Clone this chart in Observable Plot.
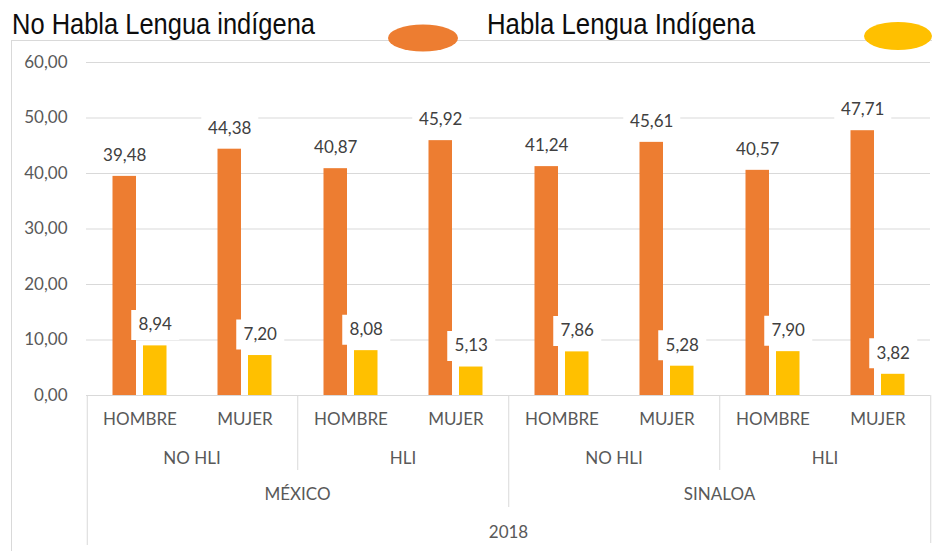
<!DOCTYPE html>
<html><head><meta charset="utf-8">
<script src="https://cdn.jsdelivr.net/npm/d3@7"></script>
<script src="https://cdn.jsdelivr.net/npm/@observablehq/plot@0.6"></script>
<style>
html,body{margin:0;padding:0;background:#fff;}
#wrap{position:relative;width:932px;height:551px;overflow:hidden;}
#chart,#legend{position:absolute;left:0;top:0;}
#frame{position:absolute;left:11px;top:40px;width:940px;height:530px;border:1px solid #d9d9d9;box-sizing:border-box;pointer-events:none;}
</style></head><body>
<div id="wrap"><div id="chart"></div><div id="frame"></div><svg id="legend" width="932" height="60"></svg></div>
<script>
// ---- data ----
const countries = ["MÉXICO", "SINALOA"];
const hliLevels = ["NO HLI", "HLI"];
const sexes = ["HOMBRE", "MUJER"];
const yearLabel = "2018";
const seriesNames = ["No Habla Lengua indígena", "Habla Lengua Indígena"];
const seriesColors = ["#ED7D31", "#FFC000"];
const noHablaValues = [39.48, 44.38, 40.87, 45.92, 41.24, 45.61, 40.57, 47.71];
const hablaValues = [8.94, 7.20, 8.08, 5.13, 7.86, 5.28, 7.90, 3.82];
const yTicks = [0, 10, 20, 30, 40, 50, 60];

// ---- build table ----
const rows = [];
const groupRows = [];
countries.forEach(c => hliLevels.forEach(h => {
  const group = c + "|" + h;
  groupRows.push({group, country: c, hli: h});
  sexes.forEach(s => {
    const i = rows.length;
    rows.push({group, country: c, hli: h, sex: s, noHabla: noHablaValues[i], habla: hablaValues[i]});
  });
}));
const groupKeys = groupRows.map(d => d.group);
const countryRows = countries.map(c => ({country: c, firstGroup: c + "|" + hliLevels[0]}));
const midGroup = countries[0] + "|" + hliLevels[hliLevels.length - 1];

const fmt = v => v.toFixed(2).replace(".", ",");
const box = (w, h) => ({draw(ctx) { ctx.rect(-w / 2, -h / 2, w, h); }});

const W = 932, H = 551;
const mL = 86, mR = 2;
const band = (W - mL - mR) / (groupKeys.length * sexes.length);
const half = band / 2;
const off = 15.25;
const labelFont = "Lato, 'Open Sans', sans-serif";
const axisColor = "#595959";

const lineColor = "#d9d9d9";
const sep = (data, x, dx, len) => Plot.ruleX(data, {fx: d => d, x: () => x, dx, y1: 0, y2: 0, insetBottom: -len, stroke: lineColor});
const catText = (data, opts) => Plot.text(data, {lineAnchor: "middle", fill: axisColor, fontSize: 17, ...opts});

const chart = Plot.plot({
  width: W, height: H,
  marginTop: 62, marginBottom: 156, marginLeft: mL, marginRight: mR,
  style: {fontFamily: labelFont, fontSize: "17px", color: axisColor, background: "transparent"},
  fx: {domain: groupKeys, padding: 0, axis: null},
  x: {domain: sexes, padding: 0, axis: null},
  y: {domain: [0, 60], ticks: yTicks, tickFormat: fmt, tickSize: 0, tickPadding: 19, label: null},
  marks: [
    Plot.ruleY(yTicks, {stroke: lineColor}),
    Plot.barY(rows, {fx: "group", x: "sex", y: "noHabla", fill: seriesColors[0], insetLeft: 25.5, insetRight: 56}),
    Plot.barY(rows, {fx: "group", x: "sex", y: "habla", fill: seriesColors[1], insetLeft: 56, insetRight: 25.5}),
    Plot.dot(rows, {fx: "group", x: "sex", y: "noHabla", dx: -off, dy: -21, symbol: box(57, 30), fill: "white"}),
    Plot.dot(rows, {fx: "group", x: "sex", y: "habla", dx: off, dy: -21, symbol: box(48, 30), fill: "white"}),
    Plot.text(rows, {fx: "group", x: "sex", y: "noHabla", text: d => fmt(d.noHabla), dx: -off, dy: -21, fill: "#404040", fontSize: 17}),
    Plot.text(rows, {fx: "group", x: "sex", y: "habla", text: d => fmt(d.habla), dx: off, dy: -21, fill: "#404040", fontSize: 17}),
    // multi-level category axis
    catText(rows, {fx: "group", x: "sex", text: "sex", frameAnchor: "bottom", dy: 24}),
    catText(groupRows, {fx: "group", text: "hli", frameAnchor: "bottom", dy: 63}),
    catText(countryRows, {fx: "firstGroup", text: "country", frameAnchor: "bottom-right", textAnchor: "middle", dy: 99}),
    catText([yearLabel], {fx: () => midGroup, text: d => d, frameAnchor: "bottom-right", textAnchor: "middle", dy: 137}),
    sep([groupKeys[0]], sexes[0], -half, 150),
    sep(countryRows.map(d => d.firstGroup), sexes[1], half, 75),
    sep([midGroup], sexes[1], half, 112),
    sep([groupKeys[groupKeys.length - 1]], sexes[1], half, 148)
  ]
});
document.getElementById("chart").appendChild(chart);

// ---- legend ----
const lg = d3.select("#legend");
const legendFont = "'Liberation Sans Narrow', 'Arial Narrow', 'Liberation Sans', Arial, sans-serif";
const legendItems = [
  {name: seriesNames[0], tx: 12, tl: 303, cx: 423, cy: 38, rx: 35, ry: 13.5, color: seriesColors[0]},
  {name: seriesNames[1], tx: 487, tl: 268, cx: 898, cy: 36, rx: 34, ry: 14, color: seriesColors[1]}
];
legendItems.forEach(it => {
  lg.append("text").attr("x", it.tx).attr("y", 34).attr("textLength", it.tl).attr("lengthAdjust", "spacingAndGlyphs")
    .attr("font-family", legendFont).attr("font-size", 29).attr("fill", "#0d0d0d").text(it.name);
  lg.append("ellipse").attr("cx", it.cx).attr("cy", it.cy).attr("rx", it.rx).attr("ry", it.ry).attr("fill", it.color);
});
</script>
</body></html>
